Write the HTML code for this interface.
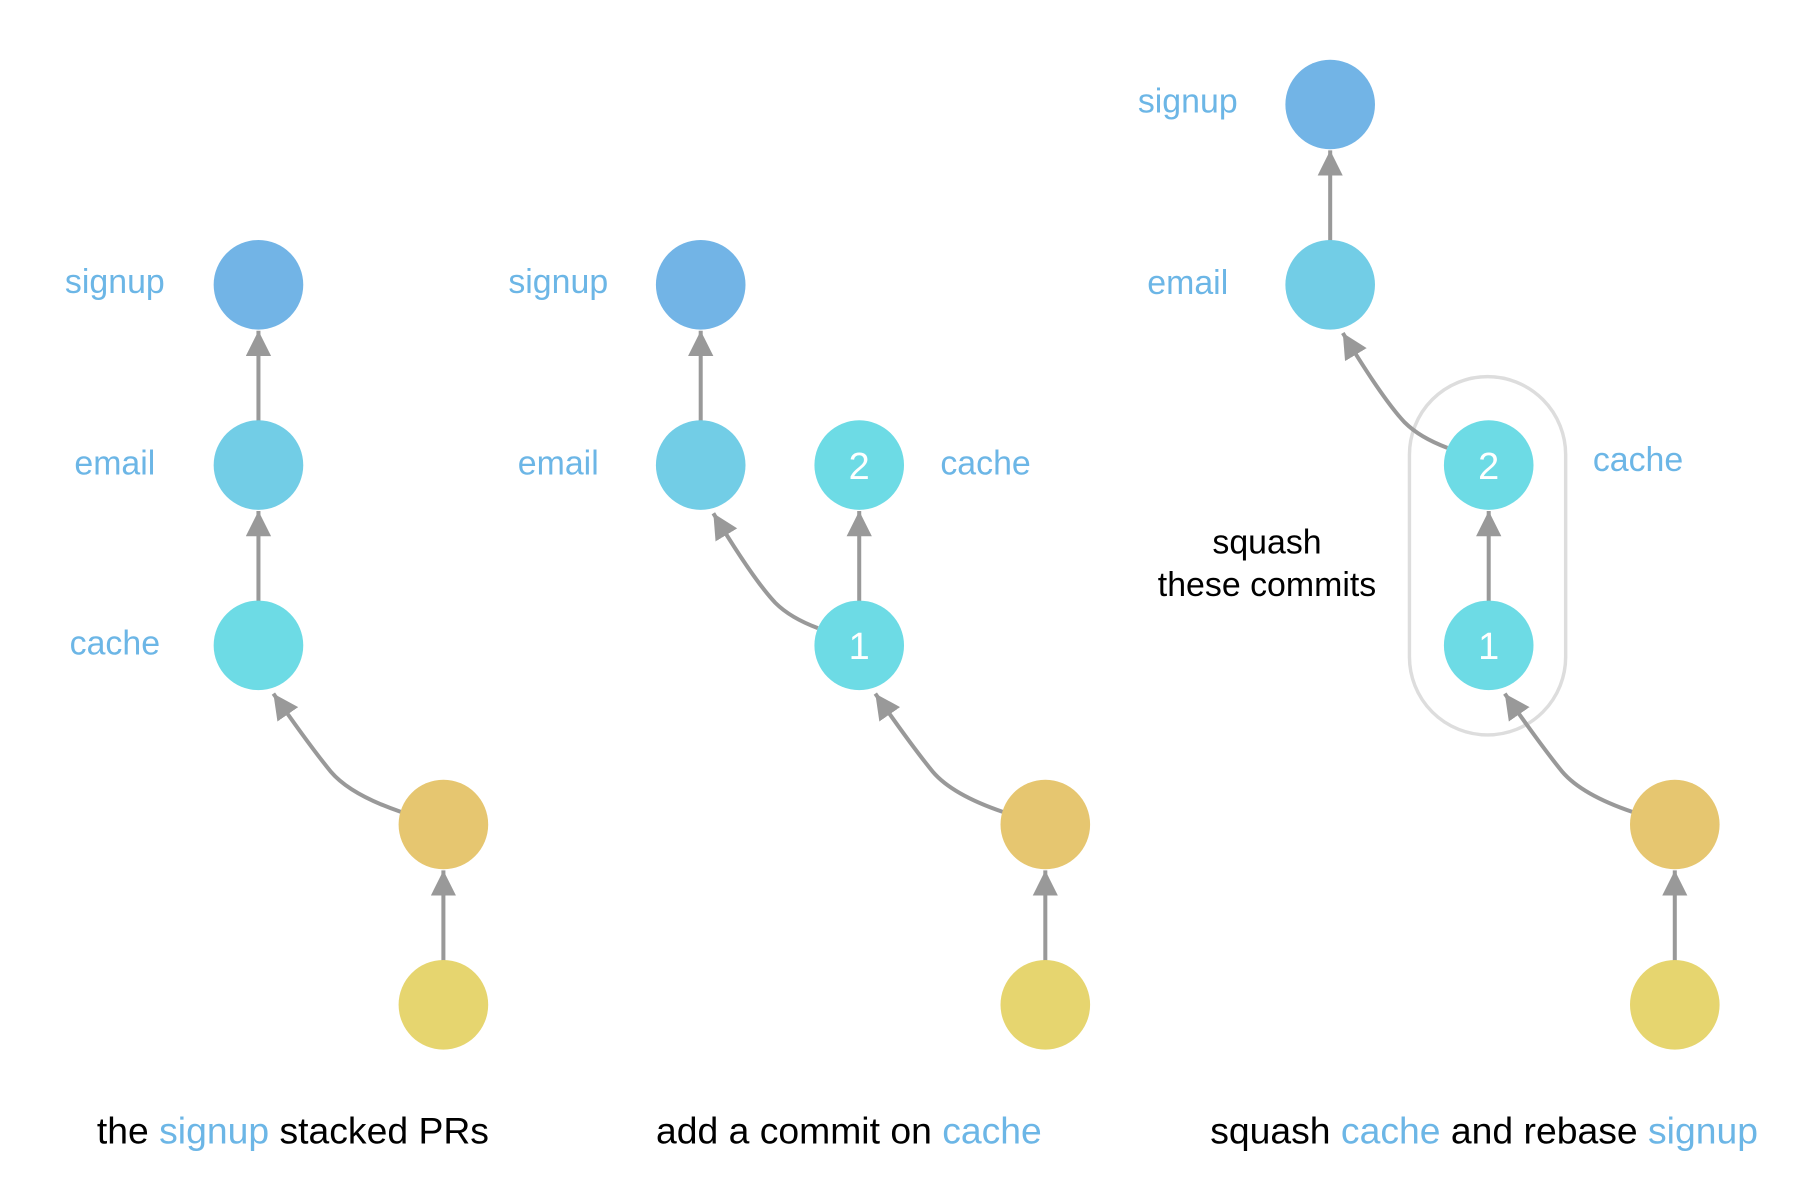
<!DOCTYPE html>
<html><head><meta charset="utf-8"><style>
html,body{margin:0;padding:0;background:#fff;}
svg{display:block;}
text{font-family:"Liberation Sans",sans-serif;}
.lb{fill:#6cb6e6;font-size:29.5px;text-anchor:middle;}
.cap{font-size:32.5px;text-anchor:middle;fill:#000;}
.num{fill:#fff;font-size:33px;text-anchor:middle;}
.ln{stroke:#999;stroke-width:3.5;fill:none;marker-end:url(#ah);}
</style></head><body>
<svg width="1800" height="1200" viewBox="0 0 1567 1045" preserveAspectRatio="none">
<defs><marker id="ah" markerUnits="userSpaceOnUse" markerWidth="26" markerHeight="26" refX="22" refY="11" orient="auto"><path d="M0,0 L22,11 L0,22 Z" fill="#999"/></marker></defs>
<!-- Panel 1 -->
<line class="ln" x1="225" y1="367" x2="225" y2="288"/>
<line class="ln" x1="225" y1="524" x2="225" y2="445"/>
<line class="ln" x1="386" y1="837" x2="386" y2="758"/>
<path class="ln" d="M349,707 Q305,692 288,672 Q270,650 238,604"/>
<circle cx="225" cy="248" r="39" fill="#72b4e6"/>
<circle cx="225" cy="405" r="39" fill="#72cde6"/>
<circle cx="225" cy="562" r="39" fill="#6ddbe5"/>
<circle cx="386" cy="718" r="39" fill="#e6c670"/>
<circle cx="386" cy="875" r="39" fill="#e6d56f"/>
<text class="lb" x="100" y="255">signup</text>
<text class="lb" x="100" y="413">email</text>
<text class="lb" x="100" y="570">cache</text>
<!-- Panel 2 -->
<line class="ln" x1="610" y1="367" x2="610" y2="288"/>
<line class="ln" x1="748" y1="524" x2="748" y2="445"/>
<line class="ln" x1="910" y1="837" x2="910" y2="758"/>
<path class="ln" d="M873,707 Q829,692 812,672 Q794,650 762,604"/>
<path class="ln" d="M712,547 Q688,538 675,525 Q656,505 621,447"/>
<circle cx="610" cy="248" r="39" fill="#72b4e6"/>
<circle cx="610" cy="405" r="39" fill="#72cde6"/>
<circle cx="748" cy="405" r="39" fill="#6ddbe5"/>
<circle cx="748" cy="562" r="39" fill="#6ddbe5"/>
<circle cx="910" cy="718" r="39" fill="#e6c670"/>
<circle cx="910" cy="875" r="39" fill="#e6d56f"/>
<text class="num" x="748" y="417">2</text>
<text class="num" x="748" y="574">1</text>
<text class="lb" x="486" y="255">signup</text>
<text class="lb" x="486" y="413">email</text>
<text class="lb" x="858" y="413">cache</text>
<!-- Panel 3 -->
<rect x="1227" y="328" width="136" height="312" rx="68" fill="none" stroke="#ddd" stroke-width="3"/>
<line class="ln" x1="1158" y1="210" x2="1158" y2="131"/>
<line class="ln" x1="1296" y1="524" x2="1296" y2="445"/>
<line class="ln" x1="1458" y1="837" x2="1458" y2="758"/>
<path class="ln" d="M1421,707 Q1377,692 1360,672 Q1342,650 1310,604"/>
<path class="ln" d="M1260,390 Q1236,381 1223,368 Q1204,348 1169,290"/>
<circle cx="1158" cy="91" r="39" fill="#72b4e6"/>
<circle cx="1158" cy="248" r="39" fill="#72cde6"/>
<circle cx="1296" cy="405" r="39" fill="#6ddbe5"/>
<circle cx="1296" cy="562" r="39" fill="#6ddbe5"/>
<circle cx="1458" cy="718" r="39" fill="#e6c670"/>
<circle cx="1458" cy="875" r="39" fill="#e6d56f"/>
<text class="num" x="1296" y="417">2</text>
<text class="num" x="1296" y="574">1</text>
<text class="lb" x="1034" y="98">signup</text>
<text class="lb" x="1034" y="256">email</text>
<text class="lb" x="1426" y="410">cache</text>
<text x="1103" y="482" style="font-size:29.5px;text-anchor:middle">squash</text>
<text x="1103" y="519" style="font-size:29.5px;text-anchor:middle">these commits</text>
<!-- captions -->
<text class="cap" x="255" y="996">the <tspan fill="#6cb6e6">signup</tspan> stacked PRs</text>
<text class="cap" x="739" y="996">add a commit on <tspan fill="#6cb6e6">cache</tspan></text>
<text class="cap" x="1292" y="996">squash <tspan fill="#6cb6e6">cache</tspan> and rebase <tspan fill="#6cb6e6">signup</tspan></text>
</svg>
</body></html>
